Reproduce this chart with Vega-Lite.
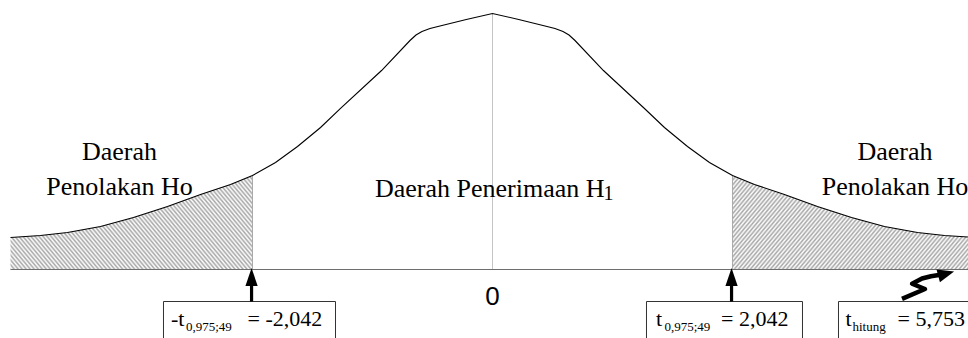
{
  "$schema": "https://vega.github.io/schema/vega-lite/v6.json",
  "width": 968,
  "height": 338,
  "padding": 0,
  "autosize": {"type": "fit", "contains": "padding"},
  "background": "white",
  "config": {"view": {"stroke": null}},
  "datasets": {
    "curve": [
      {"t": -4.101, "y": 0.0500}, {"t": -3.846, "y": 0.0531}, {"t": -3.616, "y": 0.0578}, {"t": -3.335, "y": 0.0672},
      {"t": -3.055, "y": 0.0813}, {"t": -2.765, "y": 0.0984}, {"t": -2.484, "y": 0.1172}, {"t": -2.229, "y": 0.1328},
      {"t": -2.042, "y": 0.1469}, {"t": -1.846, "y": 0.1672}, {"t": -1.659, "y": 0.1922}, {"t": -1.463, "y": 0.2219},
      {"t": -1.293, "y": 0.2516}, {"t": -0.944, "y": 0.3109}, {"t": -0.702, "y": 0.3578}, {"t": -0.651, "y": 0.3664},
      {"t": -0.600, "y": 0.3719}, {"t": -0.532, "y": 0.3766}, {"t": -0.447, "y": 0.3805}, {"t": -0.223, "y": 0.3906},
      {"t": 0, "y": 0.4},
      {"t": 0.223, "y": 0.3906}, {"t": 0.447, "y": 0.3805}, {"t": 0.532, "y": 0.3766}, {"t": 0.600, "y": 0.3719},
      {"t": 0.651, "y": 0.3664}, {"t": 0.702, "y": 0.3578}, {"t": 0.944, "y": 0.3109}, {"t": 1.293, "y": 0.2516},
      {"t": 1.463, "y": 0.2219}, {"t": 1.659, "y": 0.1922}, {"t": 1.846, "y": 0.1672}, {"t": 2.042, "y": 0.1469},
      {"t": 2.229, "y": 0.1328}, {"t": 2.484, "y": 0.1172}, {"t": 2.765, "y": 0.0984}, {"t": 3.055, "y": 0.0813},
      {"t": 3.335, "y": 0.0672}, {"t": 3.616, "y": 0.0578}, {"t": 3.846, "y": 0.0531}, {"t": 4.101, "y": 0.0500}
    ],
    "centerline": [{"t": 0, "y": 0, "y2": 0.4}],
    "critlines": [{"t": -2.042, "y": 0, "y2": 0.1469}, {"t": 2.042, "y": 0, "y2": 0.1469}],
    "baseline": [{"t": -4.101, "t2": 4.3, "y": 0}],
    "boxes": [
      {"t": -2.7993, "t2": -1.3358, "y": -0.05, "y2": -0.14},
      {"t": 1.3103, "t2": 2.6376, "y": -0.05, "y2": -0.14},
      {"t": 2.9439, "t2": 4.3, "y": -0.05, "y2": -0.14}
    ],
    "shafts": [{"t": -2.05, "y": -0.05, "y2": -0.0227}, {"t": 2.034, "y": -0.05, "y2": -0.0227}],
    "heads": [{"t": -2.05, "y": -0.0117}, {"t": 2.034, "y": -0.0117}],
    "zigzag": [
      {"o": 1, "t": 3.4843, "y": -0.0460}, {"o": 2, "t": 3.6800, "y": -0.0305}, {"o": 3, "t": 3.5700, "y": -0.0222},
      {"o": 4, "t": 3.6544, "y": -0.0140}, {"o": 5, "t": 3.7310, "y": -0.0105}, {"o": 6, "t": 3.8246, "y": -0.0078}
    ],
    "zighead": [{"t": 3.8600, "y": -0.0066}],
    "regionlabels": [
      {"t": -3.1737, "y": 0.1711, "label": "Daerah"},
      {"t": -3.1737, "y": 0.1164, "label": "Penolakan Ho"},
      {"t": 3.4247, "y": 0.1711, "label": "Daerah"},
      {"t": 3.4247, "y": 0.1164, "label": "Penolakan Ho"}
    ],
    "acceptlabel": [{"t": -1.0, "y": 0.1133, "label": "Daerah Penerimaan H"}],
    "acceptsub": [{"t": 0.9444, "y": 0.1086, "label": "1"}],
    "zero": [{"t": 0, "y": -0.0555, "label": "0"}],
    "boxmain": [
      {"t": -2.7355, "y": -0.0883, "label": "-t"},
      {"t": -2.0846, "y": -0.0883, "label": "= -2,042"},
      {"t": 1.3911, "y": -0.0883, "label": "t"},
      {"t": 1.9442, "y": -0.0883, "label": "= 2,042"},
      {"t": 3.0035, "y": -0.0883, "label": "t"},
      {"t": 3.4459, "y": -0.0883, "label": "= 5,753"}
    ],
    "boxsub": [
      {"t": -2.6079, "y": -0.0961, "label": "0,975;49"},
      {"t": 1.4635, "y": -0.0961, "label": "0,975;49"},
      {"t": 3.0631, "y": -0.0961, "label": "hitung"}
    ]
  },
  "encoding": {
    "x": {"field": "t", "type": "quantitative", "scale": {"domain": [-4.1904, 4.0458], "nice": false, "zero": false}, "axis": null},
    "y": {"field": "y", "type": "quantitative", "scale": {"domain": [-0.10703, 0.42109], "nice": false, "zero": false}, "axis": null}
  },
  "layer": [
    {
      "data": {"name": "curve"},
      "transform": [{"filter": "datum.t <= -2.042"}],
      "mark": {"type": "area", "opacity": 1, "clip": true, "interpolate": "linear",
        "fill": {"gradient": "linear", "x1": 0, "y1": 1, "x2": 1.2, "y2": 0.61, "stops": [
{"offset":0,"color":"#a6a6a6"},{"offset":0.00625,"color":"#fff"},{"offset":0.0125,"color":"#a6a6a6"},{"offset":0.01875,"color":"#fff"},{"offset":0.025,"color":"#a6a6a6"},{"offset":0.03125,"color":"#fff"},{"offset":0.0375,"color":"#a6a6a6"},{"offset":0.04375,"color":"#fff"},{"offset":0.05,"color":"#a6a6a6"},{"offset":0.05625,"color":"#fff"},{"offset":0.0625,"color":"#a6a6a6"},{"offset":0.06875,"color":"#fff"},{"offset":0.075,"color":"#a6a6a6"},{"offset":0.08125,"color":"#fff"},{"offset":0.0875,"color":"#a6a6a6"},{"offset":0.09375,"color":"#fff"},
{"offset":0.1,"color":"#a6a6a6"},{"offset":0.10625,"color":"#fff"},{"offset":0.1125,"color":"#a6a6a6"},{"offset":0.11875,"color":"#fff"},{"offset":0.125,"color":"#a6a6a6"},{"offset":0.13125,"color":"#fff"},{"offset":0.1375,"color":"#a6a6a6"},{"offset":0.14375,"color":"#fff"},{"offset":0.15,"color":"#a6a6a6"},{"offset":0.15625,"color":"#fff"},{"offset":0.1625,"color":"#a6a6a6"},{"offset":0.16875,"color":"#fff"},{"offset":0.175,"color":"#a6a6a6"},{"offset":0.18125,"color":"#fff"},{"offset":0.1875,"color":"#a6a6a6"},{"offset":0.19375,"color":"#fff"},
{"offset":0.2,"color":"#a6a6a6"},{"offset":0.20625,"color":"#fff"},{"offset":0.2125,"color":"#a6a6a6"},{"offset":0.21875,"color":"#fff"},{"offset":0.225,"color":"#a6a6a6"},{"offset":0.23125,"color":"#fff"},{"offset":0.2375,"color":"#a6a6a6"},{"offset":0.24375,"color":"#fff"},{"offset":0.25,"color":"#a6a6a6"},{"offset":0.25625,"color":"#fff"},{"offset":0.2625,"color":"#a6a6a6"},{"offset":0.26875,"color":"#fff"},{"offset":0.275,"color":"#a6a6a6"},{"offset":0.28125,"color":"#fff"},{"offset":0.2875,"color":"#a6a6a6"},{"offset":0.29375,"color":"#fff"},
{"offset":0.3,"color":"#a6a6a6"},{"offset":0.30625,"color":"#fff"},{"offset":0.3125,"color":"#a6a6a6"},{"offset":0.31875,"color":"#fff"},{"offset":0.325,"color":"#a6a6a6"},{"offset":0.33125,"color":"#fff"},{"offset":0.3375,"color":"#a6a6a6"},{"offset":0.34375,"color":"#fff"},{"offset":0.35,"color":"#a6a6a6"},{"offset":0.35625,"color":"#fff"},{"offset":0.3625,"color":"#a6a6a6"},{"offset":0.36875,"color":"#fff"},{"offset":0.375,"color":"#a6a6a6"},{"offset":0.38125,"color":"#fff"},{"offset":0.3875,"color":"#a6a6a6"},{"offset":0.39375,"color":"#fff"},
{"offset":0.4,"color":"#a6a6a6"},{"offset":0.40625,"color":"#fff"},{"offset":0.4125,"color":"#a6a6a6"},{"offset":0.41875,"color":"#fff"},{"offset":0.425,"color":"#a6a6a6"},{"offset":0.43125,"color":"#fff"},{"offset":0.4375,"color":"#a6a6a6"},{"offset":0.44375,"color":"#fff"},{"offset":0.45,"color":"#a6a6a6"},{"offset":0.45625,"color":"#fff"},{"offset":0.4625,"color":"#a6a6a6"},{"offset":0.46875,"color":"#fff"},{"offset":0.475,"color":"#a6a6a6"},{"offset":0.48125,"color":"#fff"},{"offset":0.4875,"color":"#a6a6a6"},{"offset":0.49375,"color":"#fff"},
{"offset":0.5,"color":"#a6a6a6"},{"offset":0.50625,"color":"#fff"},{"offset":0.5125,"color":"#a6a6a6"},{"offset":0.51875,"color":"#fff"},{"offset":0.525,"color":"#a6a6a6"},{"offset":0.53125,"color":"#fff"},{"offset":0.5375,"color":"#a6a6a6"},{"offset":0.54375,"color":"#fff"},{"offset":0.55,"color":"#a6a6a6"},{"offset":0.55625,"color":"#fff"},{"offset":0.5625,"color":"#a6a6a6"},{"offset":0.56875,"color":"#fff"},{"offset":0.575,"color":"#a6a6a6"},{"offset":0.58125,"color":"#fff"},{"offset":0.5875,"color":"#a6a6a6"},{"offset":0.59375,"color":"#fff"},
{"offset":0.6,"color":"#a6a6a6"},{"offset":0.60625,"color":"#fff"},{"offset":0.6125,"color":"#a6a6a6"},{"offset":0.61875,"color":"#fff"},{"offset":0.625,"color":"#a6a6a6"},{"offset":0.63125,"color":"#fff"},{"offset":0.6375,"color":"#a6a6a6"},{"offset":0.64375,"color":"#fff"},{"offset":0.65,"color":"#a6a6a6"},{"offset":0.65625,"color":"#fff"},{"offset":0.6625,"color":"#a6a6a6"},{"offset":0.66875,"color":"#fff"},{"offset":0.675,"color":"#a6a6a6"},{"offset":0.68125,"color":"#fff"},{"offset":0.6875,"color":"#a6a6a6"},{"offset":0.69375,"color":"#fff"},
{"offset":0.7,"color":"#a6a6a6"},{"offset":0.70625,"color":"#fff"},{"offset":0.7125,"color":"#a6a6a6"},{"offset":0.71875,"color":"#fff"},{"offset":0.725,"color":"#a6a6a6"},{"offset":0.73125,"color":"#fff"},{"offset":0.7375,"color":"#a6a6a6"},{"offset":0.74375,"color":"#fff"},{"offset":0.75,"color":"#a6a6a6"},{"offset":0.75625,"color":"#fff"},{"offset":0.7625,"color":"#a6a6a6"},{"offset":0.76875,"color":"#fff"},{"offset":0.775,"color":"#a6a6a6"},{"offset":0.78125,"color":"#fff"},{"offset":0.7875,"color":"#a6a6a6"},{"offset":0.79375,"color":"#fff"},
{"offset":0.8,"color":"#a6a6a6"},{"offset":0.80625,"color":"#fff"},{"offset":0.8125,"color":"#a6a6a6"},{"offset":0.81875,"color":"#fff"},{"offset":0.825,"color":"#a6a6a6"},{"offset":0.83125,"color":"#fff"},{"offset":0.8375,"color":"#a6a6a6"},{"offset":0.84375,"color":"#fff"},{"offset":0.85,"color":"#a6a6a6"},{"offset":0.85625,"color":"#fff"},{"offset":0.8625,"color":"#a6a6a6"},{"offset":0.86875,"color":"#fff"},{"offset":0.875,"color":"#a6a6a6"},{"offset":0.88125,"color":"#fff"},{"offset":0.8875,"color":"#a6a6a6"},{"offset":0.89375,"color":"#fff"},
{"offset":0.9,"color":"#a6a6a6"},{"offset":0.90625,"color":"#fff"},{"offset":0.9125,"color":"#a6a6a6"},{"offset":0.91875,"color":"#fff"},{"offset":0.925,"color":"#a6a6a6"},{"offset":0.93125,"color":"#fff"},{"offset":0.9375,"color":"#a6a6a6"},{"offset":0.94375,"color":"#fff"},{"offset":0.95,"color":"#a6a6a6"},{"offset":0.95625,"color":"#fff"},{"offset":0.9625,"color":"#a6a6a6"},{"offset":0.96875,"color":"#fff"},{"offset":0.975,"color":"#a6a6a6"},{"offset":0.98125,"color":"#fff"},{"offset":0.9875,"color":"#a6a6a6"},{"offset":0.99375,"color":"#fff"},
{"offset":1,"color":"#a6a6a6"}
        ]}},
      "encoding": {"y2": {"datum": 0}}
    },
    {
      "data": {"name": "curve"},
      "transform": [{"filter": "datum.t >= 2.042"}],
      "mark": {"type": "area", "opacity": 1, "clip": true, "interpolate": "linear",
        "fill": {"gradient": "linear", "x1": 0, "y1": 0, "x2": 1.2, "y2": 0.39, "stops": [
{"offset":0,"color":"#a6a6a6"},{"offset":0.00625,"color":"#fff"},{"offset":0.0125,"color":"#a6a6a6"},{"offset":0.01875,"color":"#fff"},{"offset":0.025,"color":"#a6a6a6"},{"offset":0.03125,"color":"#fff"},{"offset":0.0375,"color":"#a6a6a6"},{"offset":0.04375,"color":"#fff"},{"offset":0.05,"color":"#a6a6a6"},{"offset":0.05625,"color":"#fff"},{"offset":0.0625,"color":"#a6a6a6"},{"offset":0.06875,"color":"#fff"},{"offset":0.075,"color":"#a6a6a6"},{"offset":0.08125,"color":"#fff"},{"offset":0.0875,"color":"#a6a6a6"},{"offset":0.09375,"color":"#fff"},
{"offset":0.1,"color":"#a6a6a6"},{"offset":0.10625,"color":"#fff"},{"offset":0.1125,"color":"#a6a6a6"},{"offset":0.11875,"color":"#fff"},{"offset":0.125,"color":"#a6a6a6"},{"offset":0.13125,"color":"#fff"},{"offset":0.1375,"color":"#a6a6a6"},{"offset":0.14375,"color":"#fff"},{"offset":0.15,"color":"#a6a6a6"},{"offset":0.15625,"color":"#fff"},{"offset":0.1625,"color":"#a6a6a6"},{"offset":0.16875,"color":"#fff"},{"offset":0.175,"color":"#a6a6a6"},{"offset":0.18125,"color":"#fff"},{"offset":0.1875,"color":"#a6a6a6"},{"offset":0.19375,"color":"#fff"},
{"offset":0.2,"color":"#a6a6a6"},{"offset":0.20625,"color":"#fff"},{"offset":0.2125,"color":"#a6a6a6"},{"offset":0.21875,"color":"#fff"},{"offset":0.225,"color":"#a6a6a6"},{"offset":0.23125,"color":"#fff"},{"offset":0.2375,"color":"#a6a6a6"},{"offset":0.24375,"color":"#fff"},{"offset":0.25,"color":"#a6a6a6"},{"offset":0.25625,"color":"#fff"},{"offset":0.2625,"color":"#a6a6a6"},{"offset":0.26875,"color":"#fff"},{"offset":0.275,"color":"#a6a6a6"},{"offset":0.28125,"color":"#fff"},{"offset":0.2875,"color":"#a6a6a6"},{"offset":0.29375,"color":"#fff"},
{"offset":0.3,"color":"#a6a6a6"},{"offset":0.30625,"color":"#fff"},{"offset":0.3125,"color":"#a6a6a6"},{"offset":0.31875,"color":"#fff"},{"offset":0.325,"color":"#a6a6a6"},{"offset":0.33125,"color":"#fff"},{"offset":0.3375,"color":"#a6a6a6"},{"offset":0.34375,"color":"#fff"},{"offset":0.35,"color":"#a6a6a6"},{"offset":0.35625,"color":"#fff"},{"offset":0.3625,"color":"#a6a6a6"},{"offset":0.36875,"color":"#fff"},{"offset":0.375,"color":"#a6a6a6"},{"offset":0.38125,"color":"#fff"},{"offset":0.3875,"color":"#a6a6a6"},{"offset":0.39375,"color":"#fff"},
{"offset":0.4,"color":"#a6a6a6"},{"offset":0.40625,"color":"#fff"},{"offset":0.4125,"color":"#a6a6a6"},{"offset":0.41875,"color":"#fff"},{"offset":0.425,"color":"#a6a6a6"},{"offset":0.43125,"color":"#fff"},{"offset":0.4375,"color":"#a6a6a6"},{"offset":0.44375,"color":"#fff"},{"offset":0.45,"color":"#a6a6a6"},{"offset":0.45625,"color":"#fff"},{"offset":0.4625,"color":"#a6a6a6"},{"offset":0.46875,"color":"#fff"},{"offset":0.475,"color":"#a6a6a6"},{"offset":0.48125,"color":"#fff"},{"offset":0.4875,"color":"#a6a6a6"},{"offset":0.49375,"color":"#fff"},
{"offset":0.5,"color":"#a6a6a6"},{"offset":0.50625,"color":"#fff"},{"offset":0.5125,"color":"#a6a6a6"},{"offset":0.51875,"color":"#fff"},{"offset":0.525,"color":"#a6a6a6"},{"offset":0.53125,"color":"#fff"},{"offset":0.5375,"color":"#a6a6a6"},{"offset":0.54375,"color":"#fff"},{"offset":0.55,"color":"#a6a6a6"},{"offset":0.55625,"color":"#fff"},{"offset":0.5625,"color":"#a6a6a6"},{"offset":0.56875,"color":"#fff"},{"offset":0.575,"color":"#a6a6a6"},{"offset":0.58125,"color":"#fff"},{"offset":0.5875,"color":"#a6a6a6"},{"offset":0.59375,"color":"#fff"},
{"offset":0.6,"color":"#a6a6a6"},{"offset":0.60625,"color":"#fff"},{"offset":0.6125,"color":"#a6a6a6"},{"offset":0.61875,"color":"#fff"},{"offset":0.625,"color":"#a6a6a6"},{"offset":0.63125,"color":"#fff"},{"offset":0.6375,"color":"#a6a6a6"},{"offset":0.64375,"color":"#fff"},{"offset":0.65,"color":"#a6a6a6"},{"offset":0.65625,"color":"#fff"},{"offset":0.6625,"color":"#a6a6a6"},{"offset":0.66875,"color":"#fff"},{"offset":0.675,"color":"#a6a6a6"},{"offset":0.68125,"color":"#fff"},{"offset":0.6875,"color":"#a6a6a6"},{"offset":0.69375,"color":"#fff"},
{"offset":0.7,"color":"#a6a6a6"},{"offset":0.70625,"color":"#fff"},{"offset":0.7125,"color":"#a6a6a6"},{"offset":0.71875,"color":"#fff"},{"offset":0.725,"color":"#a6a6a6"},{"offset":0.73125,"color":"#fff"},{"offset":0.7375,"color":"#a6a6a6"},{"offset":0.74375,"color":"#fff"},{"offset":0.75,"color":"#a6a6a6"},{"offset":0.75625,"color":"#fff"},{"offset":0.7625,"color":"#a6a6a6"},{"offset":0.76875,"color":"#fff"},{"offset":0.775,"color":"#a6a6a6"},{"offset":0.78125,"color":"#fff"},{"offset":0.7875,"color":"#a6a6a6"},{"offset":0.79375,"color":"#fff"},
{"offset":0.8,"color":"#a6a6a6"},{"offset":0.80625,"color":"#fff"},{"offset":0.8125,"color":"#a6a6a6"},{"offset":0.81875,"color":"#fff"},{"offset":0.825,"color":"#a6a6a6"},{"offset":0.83125,"color":"#fff"},{"offset":0.8375,"color":"#a6a6a6"},{"offset":0.84375,"color":"#fff"},{"offset":0.85,"color":"#a6a6a6"},{"offset":0.85625,"color":"#fff"},{"offset":0.8625,"color":"#a6a6a6"},{"offset":0.86875,"color":"#fff"},{"offset":0.875,"color":"#a6a6a6"},{"offset":0.88125,"color":"#fff"},{"offset":0.8875,"color":"#a6a6a6"},{"offset":0.89375,"color":"#fff"},
{"offset":0.9,"color":"#a6a6a6"},{"offset":0.90625,"color":"#fff"},{"offset":0.9125,"color":"#a6a6a6"},{"offset":0.91875,"color":"#fff"},{"offset":0.925,"color":"#a6a6a6"},{"offset":0.93125,"color":"#fff"},{"offset":0.9375,"color":"#a6a6a6"},{"offset":0.94375,"color":"#fff"},{"offset":0.95,"color":"#a6a6a6"},{"offset":0.95625,"color":"#fff"},{"offset":0.9625,"color":"#a6a6a6"},{"offset":0.96875,"color":"#fff"},{"offset":0.975,"color":"#a6a6a6"},{"offset":0.98125,"color":"#fff"},{"offset":0.9875,"color":"#a6a6a6"},{"offset":0.99375,"color":"#fff"},
{"offset":1,"color":"#a6a6a6"}
        ]}},
      "encoding": {"y2": {"datum": 0}}
    },
    {
      "data": {"name": "centerline"},
      "mark": {"type": "rule", "color": "#c4c4c4", "strokeWidth": 1},
      "encoding": {"y2": {"field": "y2"}}
    },
    {
      "data": {"name": "critlines"},
      "mark": {"type": "rule", "color": "#aaaaaa", "strokeWidth": 1},
      "encoding": {"y2": {"field": "y2"}}
    },
    {
      "data": {"name": "baseline"},
      "mark": {"type": "rule", "color": "#6e6e6e", "strokeWidth": 1, "clip": true},
      "encoding": {"x2": {"field": "t2"}}
    },
    {
      "data": {"name": "curve"},
      "mark": {"type": "line", "color": "#000000", "strokeWidth": 1.1, "interpolate": "linear", "clip": true},
      "encoding": {}
    },
    {
      "data": {"name": "boxes"},
      "mark": {"type": "rect", "fill": "white", "stroke": "#333333", "strokeWidth": 1, "clip": true},
      "encoding": {"x2": {"field": "t2"}, "y2": {"field": "y2"}}
    },
    {
      "data": {"name": "shafts"},
      "mark": {"type": "rule", "color": "#000000", "strokeWidth": 3.2},
      "encoding": {"y2": {"field": "y2"}}
    },
    {
      "data": {"name": "heads"},
      "mark": {"type": "point", "shape": "M0,-1L0.68,1L-0.68,1Z", "size": 324, "filled": true, "color": "#000000", "opacity": 1, "strokeWidth": 0}
    },
    {
      "data": {"name": "zigzag"},
      "mark": {"type": "line", "color": "#000000", "strokeWidth": 4.5, "interpolate": "linear", "strokeJoin": "round"},
      "encoding": {"order": {"field": "o", "type": "quantitative"}}
    },
    {
      "data": {"name": "zighead"},
      "mark": {"type": "point", "shape": "M1,0L-1,-0.8L-1,0.8Z", "size": 270, "angle": -15, "filled": true, "color": "#000000", "opacity": 1, "strokeWidth": 0}
    },
    {
      "data": {"name": "regionlabels"},
      "mark": {"type": "text", "font": "Liberation Serif", "fontSize": 26, "align": "center", "baseline": "alphabetic", "color": "#000000", "clip": true},
      "encoding": {"text": {"field": "label"}}
    },
    {
      "data": {"name": "acceptlabel"},
      "mark": {"type": "text", "font": "Liberation Serif", "fontSize": 26, "align": "left", "baseline": "alphabetic", "color": "#000000"},
      "encoding": {"text": {"field": "label"}}
    },
    {
      "data": {"name": "acceptsub"},
      "mark": {"type": "text", "font": "Liberation Serif", "fontSize": 20, "align": "left", "baseline": "alphabetic", "color": "#000000"},
      "encoding": {"text": {"field": "label"}}
    },
    {
      "data": {"name": "zero"},
      "mark": {"type": "text", "font": "Liberation Sans", "fontSize": 26, "align": "center", "baseline": "alphabetic", "color": "#000000"},
      "encoding": {"text": {"field": "label"}}
    },
    {
      "data": {"name": "boxmain"},
      "mark": {"type": "text", "font": "Liberation Serif", "fontSize": 22, "align": "left", "baseline": "alphabetic", "color": "#000000", "clip": true},
      "encoding": {"text": {"field": "label"}}
    },
    {
      "data": {"name": "boxsub"},
      "mark": {"type": "text", "font": "Liberation Serif", "fontSize": 13, "align": "left", "baseline": "alphabetic", "color": "#000000", "clip": true},
      "encoding": {"text": {"field": "label"}}
    }
  ]
}
